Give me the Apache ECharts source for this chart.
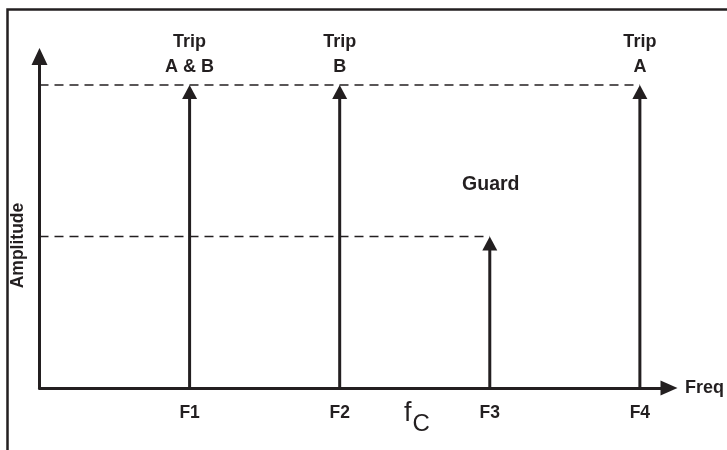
<!DOCTYPE html>
<html>
<head>
<meta charset="utf-8">
<script src="https://cdn.jsdelivr.net/npm/echarts@6/dist/echarts.min.js"></script>
<style>html,body{margin:0;padding:0;background:#fff;}#c{width:727px;height:450px;}</style>
</head>
<body>
<div id="c"></div>
<script>
// ---- data ----
const tickLabels = ['F1', 'F2', 'F3', 'F4'];
const freqPositions = [1, 2, 3, 4];
const amplitudes = [2, 2, 1, 2];
const stemLabels = ['Trip\nA & B', 'Trip\nB', 'Guard', 'Trip\nA'];
const tripLevel = [[0, 2], [4, 2]];
const guardLevel = [[0, 1], [3, 1]];
const xName = 'Freq';
const yName = 'Amplitude';

// ---- style ----
const INK = '#231f20';
const FONT = '"Liberation Sans", Arial, sans-serif';

const chart = echarts.init(document.getElementById('c'), null, { renderer: 'canvas' });

const stemData = freqPositions.map((f, i) => [f, amplitudes[i], stemLabels[i]]);

chart.setOption({
  animation: false,
  backgroundColor: '#fff',
  grid: { left: 39.5, right: 54.5, top: 56.5, bottom: 62, containLabel: false },
  xAxis: {
    type: 'value', min: 0, max: 4.194, interval: 1,
    splitLine: { show: false }, axisTick: { show: false },
    axisLine: { show: true, lineStyle: { color: INK, width: 3 }, symbol: ['none', 'triangle'], symbolSize: [15, 17] },
    axisLabel: {
      margin: 16, color: INK, fontWeight: 'bold', fontSize: 17.5, fontFamily: FONT,
      showMinLabel: false, showMaxLabel: false,
      formatter: v => (Number.isInteger(v) && v >= 1 && v <= tickLabels.length) ? tickLabels[v - 1] : ''
    },
    name: xName, nameLocation: 'end', nameGap: 16,
    nameTextStyle: { color: INK, fontWeight: 'bold', fontSize: 18, fontFamily: FONT, align: 'left', verticalAlign: 'middle' }
  },
  yAxis: {
    type: 'value', min: 0, max: 2.188,
    splitLine: { show: false }, axisTick: { show: false }, axisLabel: { show: false },
    axisLine: { show: true, lineStyle: { color: INK, width: 3 }, symbol: ['none', 'triangle'], symbolSize: [16, 17] }
  },
  graphic: [
    { type: 'rect', shape: { x: 7.5, y: 9.5, width: 780, height: 480 }, style: { fill: 'none', stroke: INK, lineWidth: 2.5 }, z: 100 },
    { type: 'text', x: 18, y: 245.5, rotation: Math.PI / 2,
      style: { text: yName, fill: INK, font: 'bold 17.5px ' + FONT, align: 'center', verticalAlign: 'middle' } },
    { type: 'text', x: 404, y: 414, style: { text: 'f', fill: INK, font: '27px ' + FONT, align: 'left', verticalAlign: 'middle' } },
    { type: 'text', x: 412.5, y: 424, style: { text: 'C', fill: INK, font: '24px ' + FONT, align: 'left', verticalAlign: 'middle' } }
  ],
  series: [
    { type: 'line', data: tripLevel, symbol: 'none', silent: true,
      lineStyle: { color: INK, width: 1.7, type: [9, 6] }, z: 2 },
    { type: 'line', data: guardLevel, symbol: 'none', silent: true,
      lineStyle: { color: INK, width: 1.7, type: [9, 6] }, z: 2 },
    {
      type: 'custom', data: stemData, z: 5,
      renderItem: function (params, api) {
        const x = api.value(0), y = api.value(1);
        const label = stemLabels[params.dataIndex];
        const base = api.coord([x, 0]);
        const tip = api.coord([x, y]);
        const ah = 14, aw = 15;
        const multi = label.indexOf('\n') >= 0;
        return {
          type: 'group',
          children: [
            { type: 'line', shape: { x1: base[0], y1: base[1], x2: tip[0], y2: tip[1] + ah - 1 },
              style: { stroke: INK, lineWidth: 3 } },
            { type: 'polygon', shape: { points: [[tip[0], tip[1]], [tip[0] - aw / 2, tip[1] + ah], [tip[0] + aw / 2, tip[1] + ah]] },
              style: { fill: INK } },
            { type: 'text', x: tip[0] + (multi ? 0 : 1), y: tip[1] - (multi ? 5 : 39),
              style: { text: label, fill: INK, font: 'bold ' + (multi ? 18 : 19.5) + 'px ' + FONT, align: 'center', verticalAlign: 'bottom', lineHeight: 25 } }
          ]
        };
      }
    }
  ]
});
</script>
</body>
</html>
